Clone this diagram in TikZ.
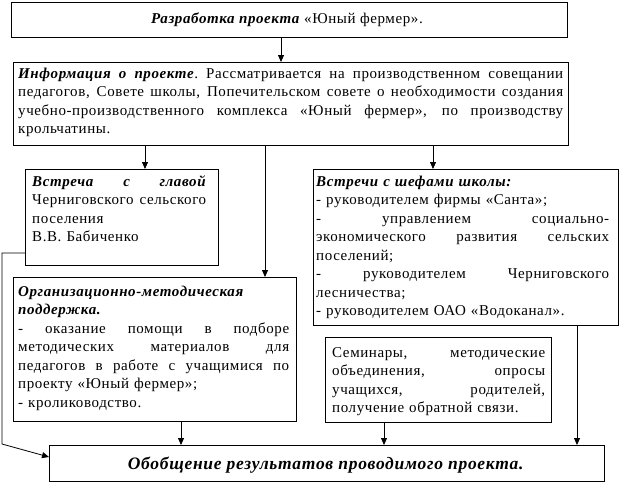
\documentclass[tikz,border=0pt]{standalone}
\usepackage{fontspec}
\setmainfont{Liberation Serif}[LetterSpace=4]
\usetikzlibrary{arrows.meta}
\setlength{\parindent}{0pt}
\newcommand\bi[1]{\textbf{\textit{#1}}}
\newcommand\tw{100pt}
\newcommand\jline[1]{\strut\hbox to \tw{\spaceskip=.25em plus 20em\relax
  \xspaceskip=.25em plus 20em\relax #1}}
\newcommand\pline[1]{\strut #1}
\tikzset{
  box/.style={draw, line width=1pt, inner sep=0pt, anchor=north west},
  txt/.style={anchor=north west, inner sep=0pt, align=left,
    font=\fontsize{15}{18.5}\selectfont},
  arr/.style={line width=0.8pt, -{Triangle[length=7pt,width=6pt]}},
}
\begin{document}
\begin{tikzpicture}[x=1pt,y=-1pt]
\useasboundingbox (0,0) rectangle (620,482);
% boxes
\node[box, minimum width=556pt, minimum height=35pt] (top) at (11,2) {};
\node[box, minimum width=555pt, minimum height=83pt] (info) at (13,62) {};
\node[box, minimum width=193pt, minimum height=96pt] (vs) at (25,169) {};
\node[box, minimum width=305pt, minimum height=156pt] (sh) at (313,169) {};
\node[box, minimum width=283pt, minimum height=144pt] (org) at (13,277) {};
\node[box, minimum width=226pt, minimum height=85pt] (sem) at (325,337) {};
\node[box, minimum width=555pt, minimum height=36pt] (bot) at (49,445) {};
% texts
\node[anchor=base, inner sep=0pt, font=\fontsize{15}{18.5}\selectfont] (topt) at (287,23)
  {\bi{Разработка проекта} «Юный фермер».};
\renewcommand\tw{545pt}
\node[txt, text width=545pt] (infot) at (18,65) {%
\jline{\bi{Информация о проекте}. Рассматривается на производственном совещании}\\
\jline{педагогов, Совете школы, Попечительском совете о необходимости создания}\\
\jline{учебно-производственного комплекса «Юный фермер», по производству}\\
\pline{крольчатины.}};
\renewcommand\tw{174pt}
\node[txt, text width=176pt] (vst) at (32,173) {%
\jline{\bi{Встреча с главой}}\\
\jline{Черниговского сельского}\\
\pline{поселения}\\
\pline{В.В. Бабиченко}};
\renewcommand\tw{293pt}
\node[txt, text width=293pt] (sht) at (316,173) {%
\pline{\bi{Встречи с шефами школы:}}\\
\pline{- руководителем фирмы «Санта»;}\\
\jline{- управлением социально-}\\
\jline{экономического развития сельских}\\
\pline{поселений;}\\
\jline{- руководителем Черниговского}\\
\pline{лесничества;}\\
\pline{- руководителем ОАО «Водоканал».}};
\renewcommand\tw{271pt}
\node[txt, text width=271pt] (orgt) at (18,283) {%
\pline{\bi{Организационно-методическая}}\\
\pline{\bi{поддержка.}}\\
\jline{- оказание помощи в подборе}\\
\jline{методических материалов для}\\
\jline{педагогов в работе с учащимися по}\\
\pline{проекту «Юный фермер»;}\\
\pline{- кролиководство.}};
\renewcommand\tw{213pt}
\node[txt, text width=213pt] (semt) at (332,344) {%
\jline{Семинары, методические}\\
\jline{объединения, опросы}\\
\jline{учащихся, родителей,}\\
\pline{получение обратной связи.}};
\node[anchor=base, inner sep=0pt, font=\fontsize{17.5}{20}\selectfont] (bott) at (326,469)
  {\bi{Обобщение результатов проводимого проекта.}};
% connector columns
\coordinate (xa) at (281,0);
\coordinate (xb) at (145,0);
\coordinate (xc) at (265,0);
\coordinate (xd) at (433,0);
\coordinate (xe) at (181,0);
\coordinate (xf) at (384,0);
\coordinate (xg) at (577,0);
\coordinate (k1) at (2,253);
\coordinate (k2) at (2,444);
\coordinate (k3) at (49,457);
% connectors
\draw[arr] (top.south -| xa) -- (info.north -| xa);
\draw[arr] (info.south -| xb) -- (vs.north -| xb);
\draw[arr] (info.south -| xc) -- (org.north -| xc);
\draw[arr] (info.south -| xd) -- (sh.north -| xd);
\draw[arr] (org.south -| xe) -- (bot.north -| xe);
\draw[arr] (sem.south -| xf) -- (bot.north -| xf);
\draw[arr] (sh.south -| xg) -- (bot.north -| xg);
\draw[arr] (vs.west |- k1) -- (k1) -- (k2) -- (bot.west |- k3);
\end{tikzpicture}
\end{document}
